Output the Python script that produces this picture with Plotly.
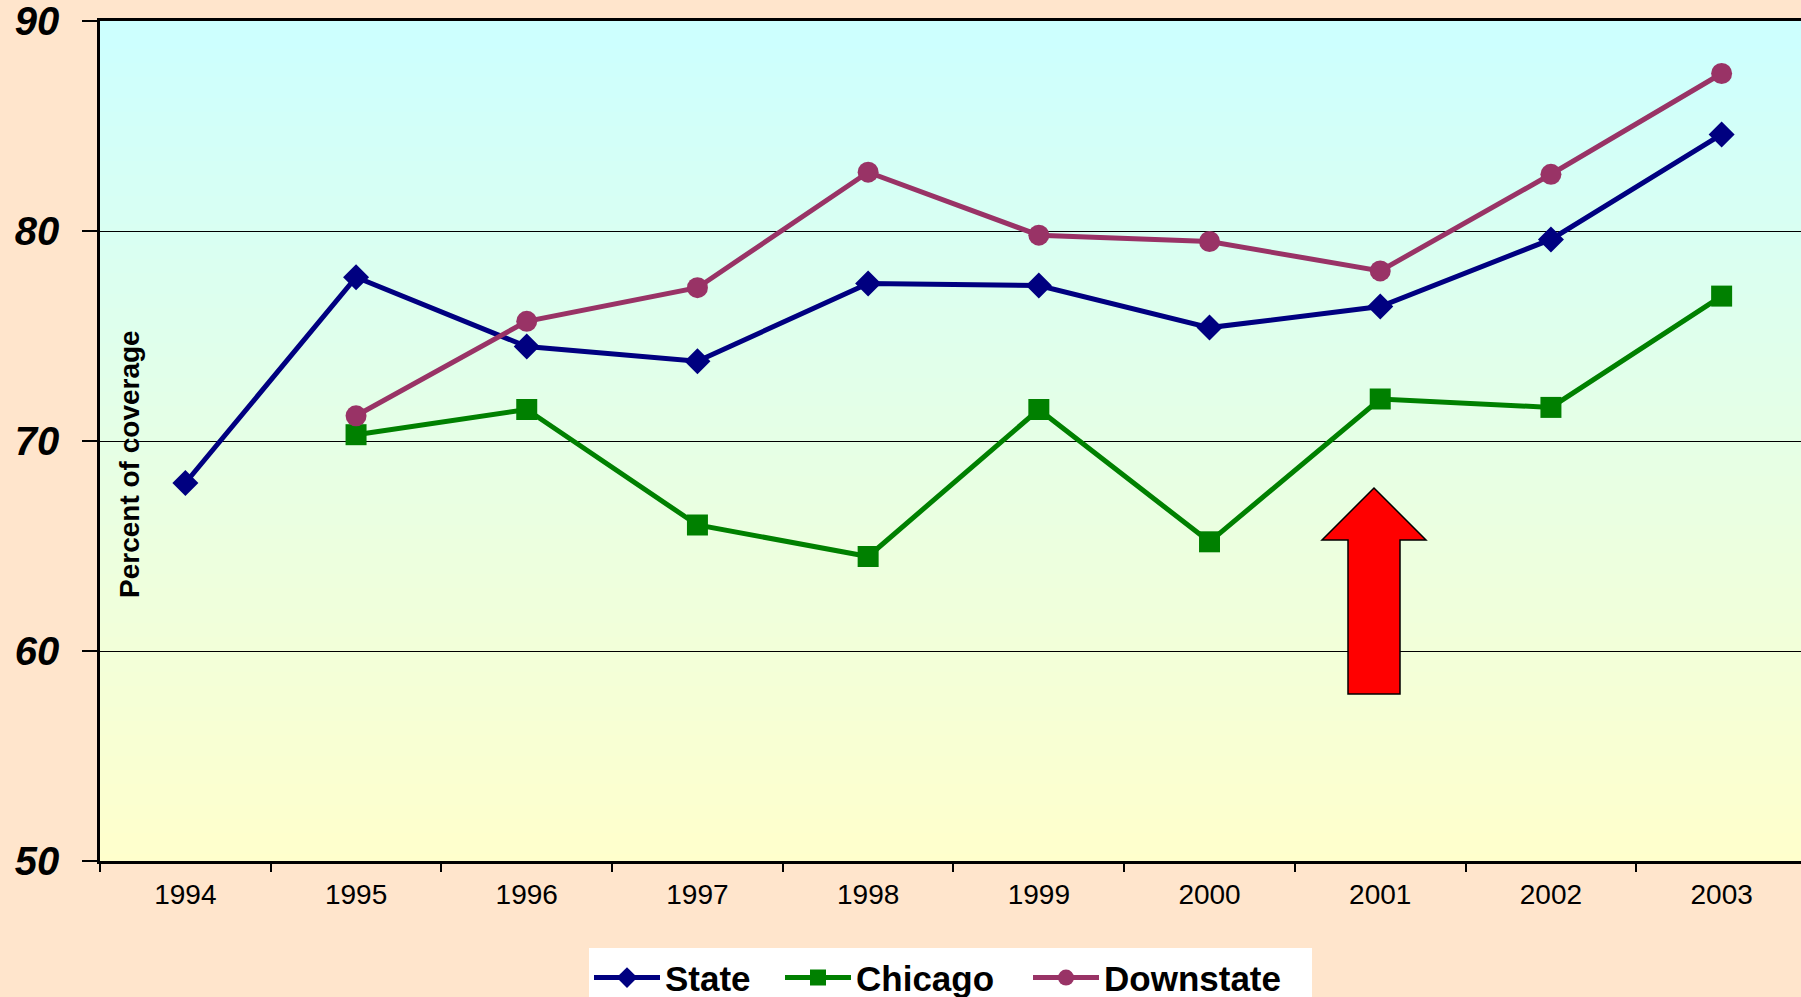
import plotly.graph_objects as go

years = ["1994", "1995", "1996", "1997", "1998", "1999", "2000", "2001", "2002", "2003"]
state = [68.0, 77.8, 74.5, 73.8, 77.5, 77.4, 75.4, 76.4, 79.6, 84.6]
chicago = [None, 70.3, 71.5, 66.0, 64.5, 71.5, 65.2, 72.0, 71.6, 76.9]
downstate = [None, 71.2, 75.7, 77.3, 82.8, 79.8, 79.5, 78.1, 82.7, 87.5]
y_ticks = [50, 60, 70, 80, 90]

W, H = 1801, 997
L, R, T, B = 100, 0, 21, 136
pw, ph = W - L - R, H - T - B

fig = go.Figure()
fig.add_trace(go.Scatter(x=years, y=state, name="State", mode="lines+markers",
                         line=dict(color="#000080", width=5), legendwidth=110,
                         marker=dict(symbol="diamond", size=20, color="#000080")))
fig.add_trace(go.Scatter(x=years, y=chicago, name="Chicago", mode="lines+markers",
                         line=dict(color="#008000", width=5), legendwidth=167,
                         marker=dict(symbol="square", size=21, color="#008000")))
fig.add_trace(go.Scatter(x=years, y=downstate, name="Downstate", mode="lines+markers",
                         line=dict(color="#993366", width=5), legendwidth=203,
                         marker=dict(symbol="circle", size=21, color="#993366")))

# gradient plot background via thin bands
shapes = []
n = 120
c0 = (204, 255, 255)
c1 = (255, 255, 204)
for i in range(n):
    t = (i + 0.5) / n
    col = tuple(round(c0[k] + (c1[k] - c0[k]) * t) for k in range(3))
    shapes.append(dict(type="rect", xref="paper", yref="paper", layer="below",
                       x0=0, x1=1, y0=1 - (i + 1) / n - 0.001, y1=1 - i / n,
                       fillcolor="rgb(%d,%d,%d)" % col, line=dict(width=0)))

def px(x):
    return (x - L) / pw

def py(y):
    return (T + ph - y) / ph

tip = (px(1374), py(488))
hl, hr, hb = px(1322), px(1426), py(540)
sl, sr, sb = px(1348), px(1400), py(694)
path = (f"M {sl},{sb} L {sl},{hb} L {hl},{hb} L {tip[0]},{tip[1]} "
        f"L {hr},{hb} L {sr},{hb} L {sr},{sb} Z")
shapes.append(dict(type="path", xref="paper", yref="paper", path=path,
                   fillcolor="#FF0000", line=dict(color="black", width=1.5), layer="above"))

fig.update_layout(
    width=W, height=H,
    margin=dict(l=L, r=R, t=T, b=B, pad=0, autoexpand=False),
    paper_bgcolor="#FFE5CC",
    plot_bgcolor="#E5FFE5",
    shapes=shapes,
    showlegend=True,
    legend=dict(orientation="h", x=0.5, xanchor="center", y=-0.104, yanchor="top",
                bgcolor="white", borderwidth=0, itemwidth=66,
                font=dict(family="Liberation Sans", size=35, color="black", weight="bold"),
                tracegroupgap=0, itemsizing="trace"),
    annotations=[dict(text="Percent of coverage", xref="paper", yref="paper",
                      x=px(129), y=py(464), xanchor="center", yanchor="middle",
                      textangle=-90, showarrow=False,
                      font=dict(family="Liberation Sans", size=28, color="black", weight="bold"))],
)

fig.update_xaxes(type="category", range=[-0.5, 9.465], tickson="boundaries",
                 ticks="outside", ticklen=8, tickwidth=1.5, tickcolor="black",
                 showline=True, linecolor="black", linewidth=2.5, mirror=True,
                 showgrid=False, zeroline=False, ticklabelstandoff=7,
                 automargin=False, ticklabeloverflow="allow",
                 tickfont=dict(family="Liberation Sans", size=28, color="black"))
fig.update_yaxes(range=[50, 90], tickvals=y_ticks, ticks="outside", ticklen=15,
                 tickwidth=1.5, tickcolor="black",
                 showline=True, linecolor="black", linewidth=2.5,
                 showgrid=True, gridcolor="black", gridwidth=1.3, zeroline=False,
                 ticklabelstandoff=15, automargin=False, ticklabeloverflow="allow",
                 tickfont=dict(family="Liberation Sans", size=40, color="black",
                               weight="bold", style="italic"))

fig.write_html("out.html", config={"displayModeBar": False},
               post_script="document.body.style.margin='0';document.body.style.overflow='hidden';")
